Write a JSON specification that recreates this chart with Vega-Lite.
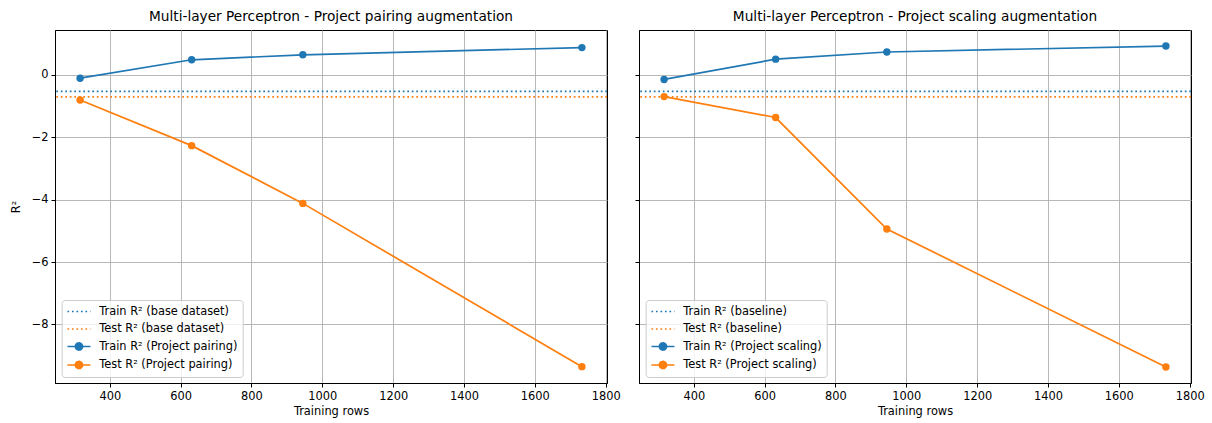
{
  "$schema": "https://vega.github.io/schema/vega-lite/v6.json",
  "padding": {"left": 9, "top": 9, "right": 0, "bottom": 0},
  "background": "white",
  "bounds": "flush",
  "spacing": 32,
  "config": {
    "font": "DejaVu Sans",
    "view": {"stroke": "black", "strokeWidth": 1},
    "axis": {
      "labelFont": "DejaVu Sans", "labelFontSize": 11.4, "labelColor": "black",
      "titleFont": "DejaVu Sans", "titleFontSize": 11.4, "titleFontWeight": "normal", "titleColor": "black",
      "tickColor": "black", "tickSize": 4, "labelPadding": 3, "domainColor": "black", "domainWidth": 1,
      "gridColor": "#b0b0b0", "gridWidth": 0.9, "labelFlush": false, "labelOverlap": false
    },
    "title": {"font": "DejaVu Sans", "fontSize": 13.7, "fontWeight": "normal", "color": "black", "offset": 6},
    "legend": {
      "orient": "none", "legendX": 6.7, "legendY": 270, "title": null,
      "fillColor": "rgba(255,255,255,0.8)", "strokeColor": "#cccccc", "cornerRadius": 3, "padding": 4.5,
      "rowPadding": 4.5, "labelOffset": 19, "labelFont": "DejaVu Sans", "labelFontSize": 11.4, "labelColor": "black",
      "symbolSize": 132, "labelLimit": 400
    }
  },
  "resolve": {"scale": {"color": "independent"}, "legend": {"color": "independent"}},
  "hconcat": [
    {
      "width": 552, "height": 353,
      "title": "Multi-layer Perceptron - Project pairing augmentation",
      "encoding": {
        "y": {"field": "r2", "type": "quantitative", "scale": {"domain": [-9.874, 1.434], "nice": false, "zero": false},
          "axis": {"title": "R²", "values": [-8, -6, -4, -2, 0], "labelExpr": "datum.value < 0 ? '−' + abs(datum.value) : datum.label", "titlePadding": 10}},
        "color": {"field": "series", "type": "nominal",
          "scale": {"domain": ["Train R² (base dataset)", "Test R² (base dataset)", "Train R² (Project pairing)", "Test R² (Project pairing)"],
                    "range": ["#1f77b4", "#ff7f0e", "#1f77b4", "#ff7f0e"]},
          "legend": {"encode": {"symbols": {"update": {
            "shape": {"signal": "indexof(datum.value, 'base') >= 0 ? 'M-1,0H3' : 'M-1,0H3M0.38,0A0.62,0.62 0 1,0 1.62,0A0.62,0.62 0 1,0 0.38,0Z'"},
            "stroke": {"signal": "indexof(datum.value, 'Train') == 0 ? '#1f77b4' : '#ff7f0e'"},
            "fill": {"signal": "indexof(datum.value, 'Train') == 0 ? '#1f77b4' : '#ff7f0e'"},
            "strokeDash": {"signal": "indexof(datum.value, 'base') >= 0 ? [1.7, 2.8] : [1, 0]"},
            "strokeWidth": {"value": 1.7}, "size": {"value": 132}, "opacity": {"value": 1}, "fillOpacity": {"value": 1}, "strokeOpacity": {"value": 1}
          }}}}}
      },
      "layer": [
        {
          "data": {"values": [
            {"series": "Train R² (base dataset)", "r2": -0.53},
            {"series": "Test R² (base dataset)", "r2": -0.71}
          ]},
          "mark": {"type": "rule", "strokeDash": [1.7, 2.8], "strokeWidth": 1.7},
          "encoding": {}
        },
        {
          "data": {"values": [
            {"series": "Train R² (Project pairing)", "rows": 316, "r2": -0.11},
            {"series": "Train R² (Project pairing)", "rows": 631, "r2": 0.48},
            {"series": "Train R² (Project pairing)", "rows": 945, "r2": 0.64},
            {"series": "Train R² (Project pairing)", "rows": 1733, "r2": 0.87},
            {"series": "Test R² (Project pairing)", "rows": 316, "r2": -0.81},
            {"series": "Test R² (Project pairing)", "rows": 631, "r2": -2.27},
            {"series": "Test R² (Project pairing)", "rows": 945, "r2": -4.12},
            {"series": "Test R² (Project pairing)", "rows": 1733, "r2": -9.35}
          ]},
          "encoding": {
            "x": {"field": "rows", "type": "quantitative", "scale": {"domain": [245.15, 1803.85], "nice": false, "zero": false},
              "axis": {"title": "Training rows", "format": "d", "values": [400, 600, 800, 1000, 1200, 1400, 1600, 1800], "titlePadding": 4}}
          },
          "layer": [
            {"mark": {"type": "line", "strokeWidth": 1.7}},
            {"mark": {"type": "point", "filled": true, "size": 55, "opacity": 1}}
          ]
        }
      ]
    },
    {
      "width": 552, "height": 353,
      "title": "Multi-layer Perceptron - Project scaling augmentation",
      "encoding": {
        "y": {"field": "r2", "type": "quantitative", "scale": {"domain": [-9.874, 1.434], "nice": false, "zero": false},
          "axis": {"title": null, "values": [-8, -6, -4, -2, 0], "labels": false}},
        "color": {"field": "series", "type": "nominal",
          "scale": {"domain": ["Train R² (baseline)", "Test R² (baseline)", "Train R² (Project scaling)", "Test R² (Project scaling)"],
                    "range": ["#1f77b4", "#ff7f0e", "#1f77b4", "#ff7f0e"]},
          "legend": {"encode": {"symbols": {"update": {
            "shape": {"signal": "indexof(datum.value, 'base') >= 0 ? 'M-1,0H3' : 'M-1,0H3M0.38,0A0.62,0.62 0 1,0 1.62,0A0.62,0.62 0 1,0 0.38,0Z'"},
            "stroke": {"signal": "indexof(datum.value, 'Train') == 0 ? '#1f77b4' : '#ff7f0e'"},
            "fill": {"signal": "indexof(datum.value, 'Train') == 0 ? '#1f77b4' : '#ff7f0e'"},
            "strokeDash": {"signal": "indexof(datum.value, 'base') >= 0 ? [1.7, 2.8] : [1, 0]"},
            "strokeWidth": {"value": 1.7}, "size": {"value": 132}, "opacity": {"value": 1}, "fillOpacity": {"value": 1}, "strokeOpacity": {"value": 1}
          }}}}}
      },
      "layer": [
        {
          "data": {"values": [
            {"series": "Train R² (baseline)", "r2": -0.53},
            {"series": "Test R² (baseline)", "r2": -0.71}
          ]},
          "mark": {"type": "rule", "strokeDash": [1.7, 2.8], "strokeWidth": 1.7},
          "encoding": {}
        },
        {
          "data": {"values": [
            {"series": "Train R² (Project scaling)", "rows": 316, "r2": -0.15},
            {"series": "Train R² (Project scaling)", "rows": 631, "r2": 0.5},
            {"series": "Train R² (Project scaling)", "rows": 945, "r2": 0.73},
            {"series": "Train R² (Project scaling)", "rows": 1733, "r2": 0.92},
            {"series": "Test R² (Project scaling)", "rows": 316, "r2": -0.7},
            {"series": "Test R² (Project scaling)", "rows": 631, "r2": -1.37},
            {"series": "Test R² (Project scaling)", "rows": 945, "r2": -4.94},
            {"series": "Test R² (Project scaling)", "rows": 1733, "r2": -9.36}
          ]},
          "encoding": {
            "x": {"field": "rows", "type": "quantitative", "scale": {"domain": [245.15, 1803.85], "nice": false, "zero": false},
              "axis": {"title": "Training rows", "format": "d", "values": [400, 600, 800, 1000, 1200, 1400, 1600, 1800], "titlePadding": 4}}
          },
          "layer": [
            {"mark": {"type": "line", "strokeWidth": 1.7}},
            {"mark": {"type": "point", "filled": true, "size": 55, "opacity": 1}}
          ]
        }
      ]
    }
  ]
}
